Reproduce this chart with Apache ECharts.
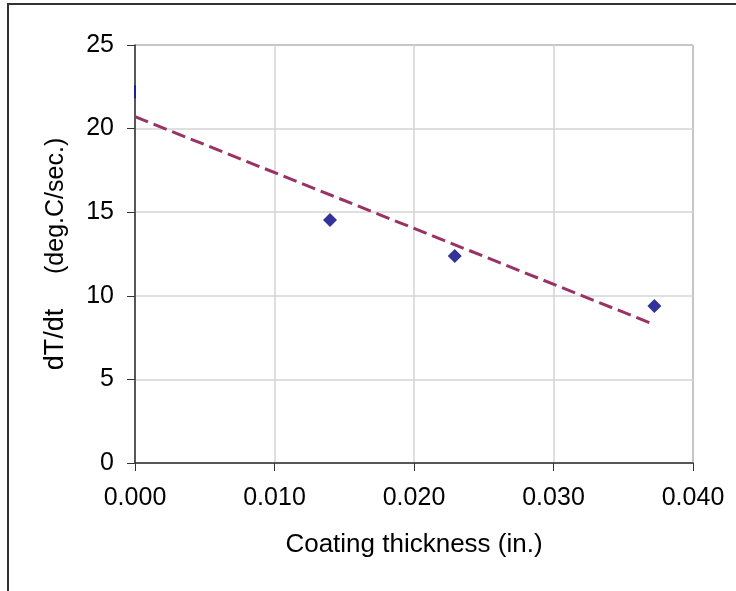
<!DOCTYPE html>
<html>
<head>
<meta charset="utf-8">
<style>
  html, body { margin: 0; padding: 0; background: #ffffff; }
  #chart { width: 736px; height: 591px; }
</style>
<script src="https://cdn.jsdelivr.net/npm/echarts@6/dist/echarts.min.js"></script>
</head>
<body>
<div id="chart"></div>
<script>
// Measured heating rate against coating thickness
var thickness = [0.0, 0.01398, 0.02292, 0.03723];
var heatRate = [22.2, 14.53, 12.38, 9.39];

// Fitted trend (dashed), start and end values
var trendThickness = [0.0, 0.03716];
var trendRate = [20.71, 8.30];

// Tick values
var xTicks = [0.000, 0.010, 0.020, 0.030, 0.040];
var yTicks = [0, 5, 10, 15, 20, 25];

var FONT = '"Liberation Sans", Arial, sans-serif';

var points = thickness.map(function (x, i) {
  var item = { value: [x, heatRate[i]] };
  // the marker sitting on the value axis is mostly hidden behind it
  if (x === 0) {
    item.symbol = 'rect';
    item.symbolSize = [2, 13];
    item.itemStyle = { color: '#1010a8' };
  }
  return item;
});

var trend = trendThickness.map(function (x, i) { return [x, trendRate[i]]; });

var chart = echarts.init(document.getElementById('chart'), null, { renderer: 'canvas' });

chart.setOption({
  backgroundColor: '#ffffff',
  animation: false,
  graphic: [{
    type: 'rect',
    silent: true,
    shape: { x: 8, y: 4, width: 760, height: 620 },
    style: { fill: 'none', stroke: '#333333', lineWidth: 2 },
    z: 100
  }],
  grid: {
    left: 135, right: 43, top: 45, bottom: 128,
    show: true,
    borderColor: '#3a3a3a',
    borderWidth: 1
  },
  xAxis: {
    type: 'value',
    min: xTicks[0],
    max: xTicks[xTicks.length - 1],
    interval: 0.01,
    name: 'Coating thickness (in.)',
    nameLocation: 'middle',
    nameGap: 69,
    nameTextStyle: { fontFamily: FONT, fontSize: 26, color: '#000000' },
    axisLine: { show: true, lineStyle: { color: '#333333', width: 1.5 } },
    axisTick: { show: true, inside: false, length: 8, lineStyle: { color: '#333333' } },
    axisLabel: {
      margin: 23,
      fontFamily: FONT, fontSize: 25, color: '#000000',
      formatter: function (v) { return v.toFixed(3); }
    },
    splitLine: { show: true, lineStyle: { color: '#d4d4d4', width: 1.5 } }
  },
  yAxis: {
    type: 'value',
    min: yTicks[0],
    max: yTicks[yTicks.length - 1],
    interval: 5,
    name: '{a|dT/dt}{b|     (deg.C/sec.)}',
    nameLocation: 'middle',
    nameGap: 66,
    nameRotate: 90,
    nameTextStyle: {
      fontFamily: FONT, color: '#000000',
      rich: {
        a: { fontFamily: FONT, fontSize: 27, color: '#000000', verticalAlign: 'bottom' },
        b: { fontFamily: FONT, fontSize: 25, color: '#000000', verticalAlign: 'bottom' }
      }
    },
    axisLine: { show: true, lineStyle: { color: '#333333', width: 1.5 } },
    axisTick: { show: true, inside: false, length: 8, lineStyle: { color: '#333333' } },
    axisLabel: { margin: 21, fontFamily: FONT, fontSize: 25, color: '#000000' },
    splitLine: { show: true, lineStyle: { color: '#d4d4d4', width: 1.5 } }
  },
  series: [
    {
      type: 'line',
      data: trend,
      symbol: 'none',
      silent: true,
      lineStyle: { color: '#993366', width: 3, type: [14, 6] },
      z: 2
    },
    {
      type: 'scatter',
      data: points,
      symbol: 'diamond',
      symbolSize: 14,
      itemStyle: { color: '#000080' },
      z: 3
    }
  ]
});
</script>
</body>
</html>
